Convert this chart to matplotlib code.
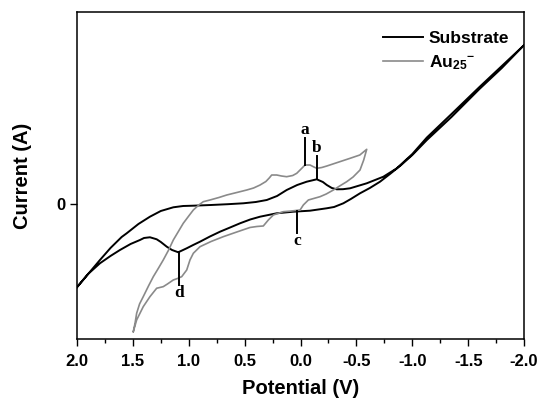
import matplotlib
matplotlib.use("Agg")
import matplotlib.pyplot as plt

plt.rcParams['font.family'] = ['Liberation Sans', 'DejaVu Sans']
plt.rcParams['font.weight'] = 'bold'
plt.rcParams['mathtext.fontset'] = 'custom'
plt.rcParams['mathtext.bf'] = 'Liberation Sans:bold'
plt.rcParams['mathtext.rm'] = 'Liberation Sans:bold'
plt.rcParams['mathtext.default'] = 'bf'

# Substrate CV (forward branch then reverse branch)
sub_fwd_v = [2.0, 1.9, 1.794, 1.7, 1.6, 1.555, 1.45, 1.347, 1.25, 1.138, 1.05, 0.959, 0.8, 0.65,
             0.512, 0.4, 0.302, 0.21, 0.124, 0.03, -0.055, -0.145, -0.2, -0.235, -0.28, -0.324,
             -0.38, -0.443, -0.592, -0.741, -0.861, -1.0, -1.13, -1.35, -1.6, -1.8, -2.0]
sub_fwd_i = [-0.833, -0.70, -0.56, -0.44, -0.33, -0.293, -0.20, -0.127, -0.07, -0.033, -0.02, -0.017,
             -0.01, -0.002, 0.007, 0.02, 0.04, 0.08, 0.14, 0.19, 0.223, 0.247, 0.22, 0.19, 0.16, 0.147,
             0.148, 0.157, 0.207, 0.273, 0.357, 0.50, 0.665, 0.90, 1.17, 1.38, 1.59]
sub_rev_v = [-2.0, -1.8, -1.6, -1.35, -1.13, -1.0, -0.9, -0.8, -0.711, -0.62, -0.532, -0.45, -0.383,
             -0.3, -0.234, -0.085, 0.064, 0.213, 0.362, 0.45, 0.541, 0.63, 0.72, 0.81, 0.899, 0.96,
             1.018, 1.094, 1.15, 1.197, 1.25, 1.287, 1.347, 1.40, 1.436, 1.52, 1.615, 1.7, 1.794, 1.9, 2.0]
sub_rev_i = [1.59, 1.36, 1.15, 0.87, 0.64, 0.49, 0.39, 0.30, 0.223, 0.16, 0.107, 0.05, 0.007,
             -0.03, -0.043, -0.067, -0.077, -0.093, -0.127, -0.155, -0.193, -0.235, -0.277, -0.325,
             -0.377, -0.41, -0.443, -0.483, -0.46, -0.427, -0.38, -0.353, -0.333, -0.34, -0.36,
             -0.40, -0.46, -0.52, -0.593, -0.70, -0.833]

# Au25- CV
au_fwd_v = [1.496, 1.48, 1.466, 1.44, 1.407, 1.36, 1.317, 1.27, 1.228, 1.18, 1.138, 1.09, 1.049, 1.0,
            0.959, 0.91, 0.870, 0.81, 0.73, 0.66, 0.57, 0.481, 0.42, 0.362, 0.31, 0.28, 0.258, 0.213,
            0.17, 0.124, 0.07, 0.034, -0.011, -0.04, -0.085, -0.12, -0.145, -0.19, -0.235, -0.324,
            -0.443, -0.53, -0.592]
au_fwd_i = [-1.277, -1.19, -1.093, -1.0, -0.927, -0.82, -0.727, -0.64, -0.56, -0.46, -0.36, -0.27,
            -0.193, -0.12, -0.06, -0.01, 0.023, 0.04, 0.065, 0.09, 0.115, 0.14, 0.16, 0.19, 0.225,
            0.26, 0.29, 0.29, 0.28, 0.273, 0.285, 0.307, 0.357, 0.39, 0.39, 0.37, 0.357, 0.365, 0.38,
            0.413, 0.457, 0.49, 0.547]
au_rev_v = [-0.592, -0.565, -0.532, -0.47, -0.413, -0.35, -0.294, -0.23, -0.174, -0.07, -0.025, 0.004,
            0.08, 0.154, 0.243, 0.288, 0.333, 0.39, 0.452, 0.57, 0.691, 0.80, 0.899, 0.959, 0.989,
            1.018, 1.063, 1.10, 1.138, 1.19, 1.228, 1.287, 1.347, 1.407, 1.466, 1.496]
au_rev_i = [0.547, 0.44, 0.34, 0.27, 0.223, 0.18, 0.14, 0.10, 0.073, 0.04, -0.01, -0.06, -0.07, -0.077,
            -0.11, -0.16, -0.22, -0.225, -0.235, -0.28, -0.327, -0.375, -0.427, -0.493, -0.56, -0.66,
            -0.727, -0.745, -0.76, -0.80, -0.827, -0.843, -0.927, -1.027, -1.16, -1.277]

# Peak markers: label, potential, start current, end current
peak_labels = ['a', 'b', 'c', 'd']
peak_v = [-0.04, -0.145, 0.029, 1.087]
peak_i0 = [0.39, 0.247, -0.07, -0.48]
peak_i1 = [0.66, 0.48, -0.29, -0.81]

xticks = [2.0, 1.5, 1.0, 0.5, 0.0, -0.5, -1.0, -1.5, -2.0]

fig = plt.figure(figsize=(5.42, 4.03), dpi=100)
ax = fig.add_axes([0.142, 0.159, 0.825, 0.811])

ax.plot(sub_fwd_v + sub_rev_v, sub_fwd_i + sub_rev_i, color='black', lw=1.4, label='Substrate')
ax.plot(au_fwd_v + au_rev_v, au_fwd_i + au_rev_i, color='#8a8a8a', lw=1.2, label='Au$_{25}$$^{-}$')

for lab, v, i0, i1 in zip(peak_labels, peak_v, peak_i0, peak_i1):
    ax.plot([v, v], [i0, i1], color='black', lw=1.4)
    va = 'bottom' if i1 > i0 else 'top'
    ax.text(v, i1, lab, family='Liberation Serif', fontweight='bold',
            fontsize=12.5, ha='center', va=va)

ax.set_xlim(2.0, -2.0)
ax.set_ylim(-1.35, 1.92)
ax.set_xticks(xticks)
ax.set_xticklabels([f"{t:.1f}" if t != 0 else "0.0" for t in xticks])
ax.set_xticks([1.75, 1.25, 0.75, 0.25, -0.25, -0.75, -1.25, -1.75], minor=True)
ax.set_yticks([0])
ax.set_yticklabels(['0'])
ax.tick_params(axis='both', direction='out', labelsize=12, length=5, width=1)
ax.tick_params(axis='x', pad=6)
ax.tick_params(axis='x', which='minor', direction='out', length=3, width=1)
ax.tick_params(top=False, right=False)
for s in ax.spines.values():
    s.set_linewidth(1.1)

ax.set_xlabel('Potential (V)', fontsize=14.5, fontweight='bold', labelpad=7)
ax.set_ylabel('Current (A)', fontsize=14.5, fontweight='bold', labelpad=17)

ax.legend(loc='upper right', frameon=False, fontsize=12.5, handlelength=2.3,
          bbox_to_anchor=(0.982, 0.964), borderaxespad=0, labelspacing=0.4, handletextpad=0.35)

fig.savefig('out.png', dpi=100)
